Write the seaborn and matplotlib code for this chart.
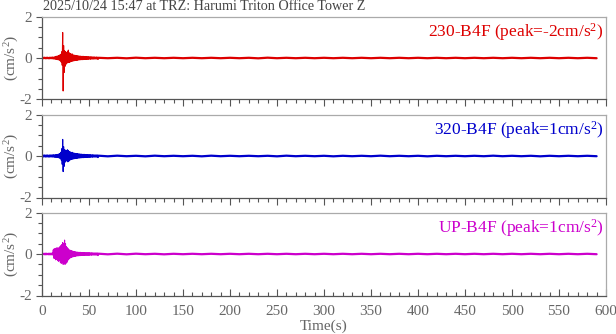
import numpy as np
import matplotlib
matplotlib.use("Agg")
import matplotlib.pyplot as plt
import seaborn as sns
from matplotlib.ticker import MultipleLocator

# ---------------- data ----------------
title = "2025/10/24 15:47 at TRZ: Harumi Triton Office Tower Z"
channels = ["230-B4F", "320-B4F", "UP-B4F"]
peaks = ["-2", "1", "1"]
colors = ["#dd0000", "#0000cc", "#cc00cc"]

# sample times: 1 s near the event, 20 s in the coda
t_dense = np.arange(0, 60, 1.0)
t_tail = np.arange(60, 601, 20.0)

# per-second max / min of the trace (cm/s^2)
red_hi = [0.04, 0.03, 0.04, 0.04, 0.03, 0.04, 0.04, 0.03, 0.04, 0.04,
          0.04, 0.05, 0.04, 0.05, 0.06, 0.08, 0.09, 0.10, 0.12, 0.15,
          0.18, 0.30, 1.23, 0.60, 0.35, 0.30, 0.25, 0.30, 0.38, 0.25,
          0.22, 0.18, 0.20, 0.15, 0.14, 0.13, 0.12, 0.12, 0.10, 0.10,
          0.09, 0.09, 0.08, 0.08, 0.08, 0.07, 0.07, 0.07, 0.06, 0.06,
          0.06, 0.05, 0.06, 0.05, 0.05, 0.05, 0.05, 0.04, 0.05, 0.04]
red_lo = [-0.04, -0.04, -0.03, -0.04, -0.04, -0.03, -0.04, -0.04, -0.04, -0.03,
          -0.04, -0.04, -0.05, -0.05, -0.06, -0.07, -0.08, -0.09, -0.10, -0.14,
          -0.20, -0.35, -1.59, -0.70, -0.40, -0.30, -0.25, -0.20, -0.22, -0.20,
          -0.18, -0.16, -0.15, -0.14, -0.13, -0.12, -0.11, -0.11, -0.10, -0.09,
          -0.09, -0.08, -0.08, -0.08, -0.07, -0.07, -0.07, -0.06, -0.06, -0.06,
          -0.05, -0.06, -0.05, -0.05, -0.05, -0.05, -0.04, -0.05, -0.04, -0.04]
red_tail_hi = [0.01, 0.01, 0.015, 0.01, 0.01, 0.01, 0.01, 0.01, 0.01, 0.015,
               0.01, 0.01, 0.01, 0.01, 0.01, 0.01, 0.01, 0.01, 0.01, 0.01,
               0.01, 0.01, 0.01, 0.01, 0.01, 0.01, 0.01, 0.01]
red_tail_lo = [-0.01, -0.015, -0.01, -0.01, -0.01, -0.01, -0.01, -0.01, -0.015, -0.01,
               -0.01, -0.01, -0.01, -0.01, -0.01, -0.01, -0.01, -0.01, -0.01, -0.01,
               -0.01, -0.01, -0.01, -0.01, -0.01, -0.01, -0.01, -0.01]

blue_hi = [0.05, 0.04, 0.05, 0.05, 0.04, 0.05, 0.05, 0.04, 0.05, 0.05,
           0.05, 0.05, 0.06, 0.05, 0.06, 0.06, 0.07, 0.08, 0.10, 0.12,
           0.18, 0.35, 0.80, 0.45, 0.30, 0.28, 0.25, 0.30, 0.27, 0.22,
           0.20, 0.17, 0.18, 0.15, 0.14, 0.13, 0.12, 0.11, 0.11, 0.10,
           0.10, 0.09, 0.09, 0.08, 0.08, 0.08, 0.07, 0.07, 0.07, 0.06,
           0.06, 0.06, 0.06, 0.05, 0.06, 0.05, 0.05, 0.05, 0.05, 0.05]
blue_lo = [-0.05, -0.05, -0.04, -0.05, -0.05, -0.04, -0.05, -0.05, -0.05, -0.04,
           -0.05, -0.05, -0.05, -0.06, -0.06, -0.06, -0.07, -0.08, -0.10, -0.12,
           -0.20, -0.40, -0.75, -0.50, -0.30, -0.25, -0.22, -0.28, -0.25, -0.20,
           -0.18, -0.16, -0.15, -0.14, -0.13, -0.12, -0.12, -0.11, -0.10, -0.10,
           -0.09, -0.09, -0.08, -0.08, -0.08, -0.07, -0.07, -0.07, -0.06, -0.06,
           -0.06, -0.06, -0.05, -0.06, -0.05, -0.05, -0.05, -0.05, -0.05, -0.05]
blue_tail_hi = [0.015, 0.015, 0.01, 0.015, 0.01, 0.01, 0.015, 0.01, 0.01, 0.01,
                0.015, 0.01, 0.01, 0.01, 0.01, 0.015, 0.01, 0.01, 0.01, 0.01,
                0.01, 0.015, 0.01, 0.01, 0.01, 0.01, 0.01, 0.01]
blue_tail_lo = [-0.015, -0.01, -0.015, -0.01, -0.01, -0.015, -0.01, -0.01, -0.01, -0.015,
                -0.01, -0.01, -0.015, -0.01, -0.01, -0.01, -0.01, -0.015, -0.01, -0.01,
                -0.01, -0.01, -0.01, -0.015, -0.01, -0.01, -0.01, -0.01]

mag_hi = [0.04, 0.04, 0.03, 0.04, 0.04, 0.04, 0.03, 0.04, 0.04, 0.04,
          0.04, 0.05, 0.20, 0.25, 0.25, 0.28, 0.30, 0.28, 0.30, 0.35,
          0.40, 0.45, 0.55, 0.50, 0.67, 0.50, 0.35, 0.30, 0.25, 0.20,
          0.18, 0.16, 0.15, 0.13, 0.12, 0.11, 0.10, 0.09, 0.09, 0.08,
          0.08, 0.08, 0.07, 0.07, 0.07, 0.07, 0.06, 0.06, 0.06, 0.06,
          0.06, 0.06, 0.05, 0.06, 0.05, 0.05, 0.05, 0.05, 0.05, 0.05]
mag_lo = [-0.04, -0.03, -0.04, -0.04, -0.04, -0.03, -0.04, -0.04, -0.04, -0.04,
          -0.04, -0.05, -0.20, -0.22, -0.28, -0.25, -0.30, -0.35, -0.30, -0.40,
          -0.45, -0.40, -0.50, -0.45, -0.50, -0.45, -0.40, -0.30, -0.25, -0.20,
          -0.18, -0.16, -0.14, -0.13, -0.12, -0.11, -0.10, -0.09, -0.09, -0.08,
          -0.08, -0.07, -0.07, -0.07, -0.07, -0.06, -0.06, -0.06, -0.06, -0.06,
          -0.06, -0.05, -0.06, -0.05, -0.05, -0.05, -0.05, -0.05, -0.05, -0.05]
mag_tail_hi = [0.015, 0.015, 0.015, 0.01, 0.01, 0.01, 0.01, 0.01, 0.01, 0.01,
               0.01, 0.01, 0.01, 0.01, 0.01, 0.01, 0.01, 0.01, 0.01, 0.01,
               0.01, 0.01, 0.01, 0.01, 0.01, 0.01, 0.01, 0.01]
mag_tail_lo = [-0.015, -0.015, -0.01, -0.015, -0.01, -0.01, -0.01, -0.01, -0.01, -0.01,
               -0.01, -0.01, -0.01, -0.01, -0.01, -0.01, -0.01, -0.01, -0.01, -0.01,
               -0.01, -0.01, -0.01, -0.01, -0.01, -0.01, -0.01, -0.01]

x_ticks = [0, 50, 100, 150, 200, 250, 300, 350, 400, 450, 500, 550, 600]
y_ticks = [-2, 0, 2]

# ---------------- style ----------------
sns.set_style("ticks")
plt.rcParams["font.family"] = ["Liberation Serif", "DejaVu Serif"]
plt.rcParams["mathtext.fontset"] = "custom"
plt.rcParams["mathtext.rm"] = "Liberation Serif"
plt.rcParams["mathtext.it"] = "Liberation Serif:italic"

GRAY = "#666666"
DARK = "#555555"
LIGHT = "#aaaaaa"

fig = plt.figure(figsize=(6.16, 3.34), dpi=100)
W, H = 616.0, 334.0
left, right = 42, 606
panels = [(16.5, 99.5), (114.5, 197.5), (212.5, 295.5)]

traces = [
    (red_hi, red_lo, red_tail_hi, red_tail_lo),
    (blue_hi, blue_lo, blue_tail_hi, blue_tail_lo),
    (mag_hi, mag_lo, mag_tail_hi, mag_tail_lo),
]


def zigzag(t, hi, lo, half):
    tt = np.column_stack([t, t + half]).ravel()
    yy = np.column_stack([hi, lo]).ravel()
    return tt, yy


for i, ((top, bot), (hi, lo, thi, tlo)) in enumerate(zip(panels, traces)):
    ax = fig.add_axes([left / W, 1 - bot / H, (right - left) / W, (bot - top) / H])
    t1, y1 = zigzag(t_dense, np.array(hi), np.array(lo), 0.5)
    t2, y2 = zigzag(t_tail, np.array(thi), np.array(tlo), 10.0)
    keep = t2 <= 593
    t2, y2 = t2[keep], y2[keep]
    # join dense part to coda
    t2 = np.concatenate([[t1[-1]], t2])
    y2 = np.concatenate([[y1[-1]], y2])
    sns.lineplot(x=t1, y=y1, ax=ax, sort=False, estimator=None,
                 color=colors[i], lw=0.8)
    sns.lineplot(x=t2, y=y2, ax=ax, sort=False, estimator=None,
                 color=colors[i], lw=1.6)
    ax.set_xlim(0, 600)
    ax.set_ylim(-2, 2)
    ax.set_xticks(x_ticks)
    ax.xaxis.set_minor_locator(MultipleLocator(10))
    ax.set_yticks(y_ticks)
    ax.set_yticklabels([str(v) for v in y_ticks])
    ax.yaxis.set_minor_locator(MultipleLocator(0.5))
    for s in ["left", "bottom"]:
        ax.spines[s].set_color(DARK)
        ax.spines[s].set_linewidth(0.9)
    for s in ["top", "right"]:
        ax.spines[s].set_color(LIGHT)
        ax.spines[s].set_linewidth(0.9)
    ax.tick_params(axis="y", which="major", length=4, width=0.8, color=DARK,
                   labelcolor=GRAY, labelsize=11, pad=3, direction="out")
    ax.tick_params(axis="y", which="minor", length=3, width=0.8, color=DARK,
                   direction="out")
    xdir = "in" if i == 2 else "out"
    ax.tick_params(axis="x", which="major", length=5, width=0.8, color=DARK,
                   labelcolor=GRAY, labelsize=11, pad=7, direction=xdir)
    ax.tick_params(axis="x", which="minor", length=3, width=0.8, color=DARK,
                   direction=xdir)
    if i < 2:
        ax.tick_params(axis="x", labelbottom=False)
    else:
        ax.set_xlabel("Time(s)", color=GRAY, fontsize=11, labelpad=1)
    ax.set_ylabel(r"(cm/s$^{\mathrm{2}}$)", color=GRAY, fontsize=11)
    ax.yaxis.set_label_coords(-30 / (right - left), 0.5)
    ax.yaxis.label.set_verticalalignment("center")
    ax.text(0.996, 0.95,
            channels[i] + " (peak=" + peaks[i] + r"cm/s$^{\mathrm{2}}$)",
            transform=ax.transAxes, ha="right", va="top",
            color=colors[i], fontsize=12.5)

fig.text(43 / W, 1 - 0.5 / H, title, ha="left", va="top", color="#444444",
         fontsize=10.2)

fig.savefig("out.png", dpi=100)
